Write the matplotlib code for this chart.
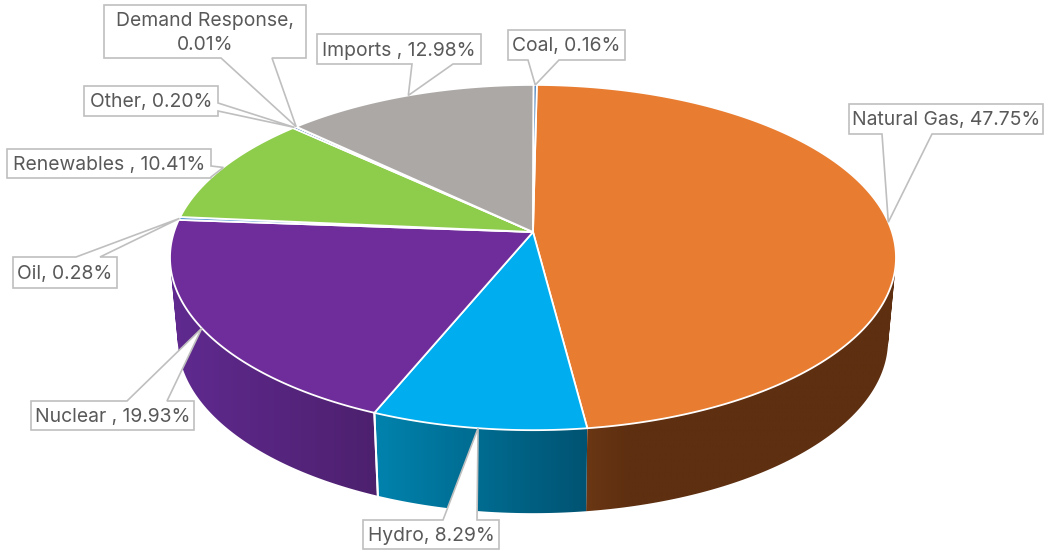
import numpy as np
import matplotlib
matplotlib.use('Agg')
import matplotlib.pyplot as plt
from matplotlib.colors import to_rgb
from matplotlib.patches import Polygon, PathPatch
from matplotlib.path import Path

# data, clockwise from 12 o'clock
labels = ["Natural Gas, 47.75%", "Hydro, 8.29%", "Nuclear , 19.93%", "Oil, 0.28%",
          "Renewables , 10.41%", "Other, 0.20%", "Demand Response,\n0.01%",
          "Imports , 12.98%", "Coal, 0.16%"]
shares = [47.75, 8.29, 19.93, 0.28, 10.41, 0.20, 0.01, 12.98, 0.16]
colors = ['#E87D31', '#00AEEF', '#6F2C9B', '#5B9BD5', '#8ECC4C', '#3A6FB0', '#264478', '#ACA8A6', '#3F78B5']

# side gradient, left colour and right colour, only for slices that show a side
side_colors = {0: ('#7A4019', '#5E2F10'), 1: ('#0083AE', '#005372'), 2: ('#602A90', '#4D206E')}

# label boxes in pixels: left, right, top, bottom, wedge base a, wedge base b, side of the wedge
boxes = [
    (849, 1043, 104, 134, 882, 932, 'bottom'),
    (363, 499, 520, 549, 443, 477, 'top'),
    (31, 194, 401, 430, 127, 167, 'top'),
    (13, 117, 257, 288, 76, 100, 'top'),
    (7, 211, 149, 178, 166, 177, 'right'),
    (84, 218, 86, 116, 103, 111, 'right'),
    (104, 306, 5, 58, 221, 272, 'bottom'),
    (317, 481, 34, 64, 412, 453, 'bottom'),
    (508, 625, 30, 60, 528, 559, 'bottom'),
]

# pie projection in pixels
CX, CY = 533, 232
R = 359
PERSP = -0.148
A = 134.5
DEPTH = 83
SHRINK = 0.978
ROT = np.radians(0.7)


def top_rim(t):
    s, v = np.sin(t + ROT), -np.cos(t + ROT)
    d = 1 + PERSP * v
    return CX + R * s / d, (A * v + CY) / d


def bottom_rim(t):
    x, y = top_rim(t)
    return CX + SHRINK * (x - CX), y + DEPTH


fig = plt.figure(figsize=(10.44, 5.5), dpi=100)
ax = fig.add_axes([0, 0, 1, 1])
ax.axis('off')

edges = np.concatenate([[0], np.cumsum(shares)]) / sum(shares) * 2 * np.pi

# sides first: a horizontal gradient clipped to the strip of quads
for i, (c0, c1) in side_colors.items():
    ts = np.linspace(edges[i], edges[i + 1], 200)
    xt, yt = top_rim(ts)
    xb, yb = bottom_rim(ts)
    verts, codes = [], []
    for j in range(len(ts) - 1):
        quad = [(xt[j], yt[j]), (xt[j + 1], yt[j + 1]), (xb[j + 1], yb[j + 1]), (xb[j], yb[j])]
        if (quad[1][0] - quad[0][0]) * (quad[2][1] - quad[0][1]) - (quad[1][1] - quad[0][1]) * (quad[2][0] - quad[0][0]) < 0:
            quad = quad[::-1]
        verts += quad + [quad[0]]
        codes += [Path.MOVETO, Path.LINETO, Path.LINETO, Path.LINETO, Path.CLOSEPOLY]
    left, right = min(xt.min(), xb.min()), max(xt.max(), xb.max())
    f = np.linspace(0, 1, 300)
    if i == 0:
        f = np.minimum(f * 4, 1)  # orange gets dark quickly
    grad = np.array(to_rgb(c0)) + (np.array(to_rgb(c1)) - np.array(to_rgb(c0))) * f[:, None]
    im = ax.imshow(grad[None, :, :], extent=(left, right, yb.max() + 2, yt.min() - 2), aspect='auto', zorder=2,
                   interpolation='bilinear')
    im.set_clip_path(PathPatch(Path(verts, codes), transform=ax.transData))
    # white joins between the side faces
    for t in (edges[i], edges[i + 1]):
        if 3 < t < 4.7:
            xa, ya = top_rim(t)
            xc, yc = bottom_rim(t)
            ax.plot([xa, xc], [ya, yc], color='white', lw=1.4, zorder=3)

ax.set_xlim(0, 1044)
ax.set_ylim(550, 0)

# top face
for i, col in enumerate(colors):
    ts = np.linspace(edges[i], edges[i + 1], max(int((edges[i + 1] - edges[i]) * 80), 3))
    x, y = top_rim(ts)
    pts = np.column_stack([np.r_[CX, x], np.r_[CY, y]])
    ax.add_patch(Polygon(pts, closed=True, fc=col, ec='white', lw=1.3, joinstyle='round', zorder=4))

# callouts
for i, (text, box) in enumerate(zip(labels, boxes)):
    l, r, t, b, a1, a2, side = box
    mid = (edges[i] + edges[i + 1]) / 2
    tip = top_rim(mid)
    if side == 'bottom':
        pts = [(l, t), (r, t), (r, b), (a2, b), tip, (a1, b), (l, b)]
    elif side == 'top':
        pts = [(l, t), (a1, t), tip, (a2, t), (r, t), (r, b), (l, b)]
    else:
        pts = [(l, t), (r, t), (r, a1), tip, (r, a2), (r, b), (l, b)]
    codes = [Path.MOVETO] + [Path.LINETO] * (len(pts) - 1) + [Path.CLOSEPOLY]
    ax.add_patch(PathPatch(Path(pts + [pts[0]], codes), fc='white', ec='#BFBFBF', lw=1.2, zorder=5))
    ax.text((l + r) / 2, (t + b) / 2 + 1.5, text, ha='center', va='center', ma='center', color='#595959',
            fontsize=13.9, family=['Inter', 'DejaVu Sans'], linespacing=1.4, zorder=6)

fig.savefig('out.png', dpi=100)
